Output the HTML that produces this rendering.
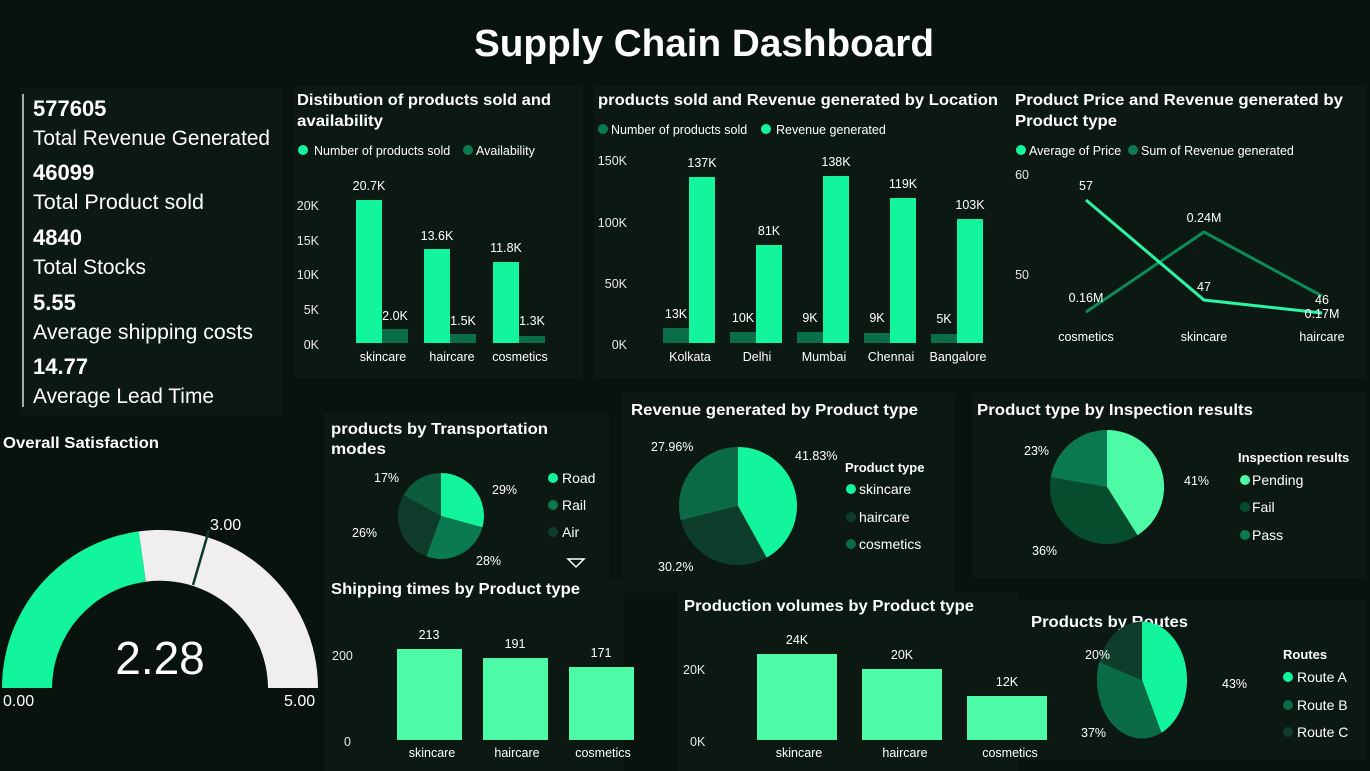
<!DOCTYPE html>
<html><head><meta charset="utf-8"><style>
body{margin:0;background:#09130e;}
svg{display:block;font-family:"Liberation Sans",sans-serif;}
.t{font-weight:bold;fill:#fff;font-size:16px;}
.a{fill:#e8e8e8;font-size:12.5px;}
.l{fill:#fff;font-size:12.5px;}
</style></head><body>
<svg width="1370" height="771" viewBox="0 0 1370 771">
<rect width="1370" height="771" fill="#09130e"/>
<g fill="#0c1912">
<rect x="20" y="88" width="262" height="327"/>
<rect x="293" y="86" width="290" height="292"/>
<rect x="594" y="86" width="420" height="292"/>
<rect x="1012" y="86" width="354" height="292"/>
<rect x="324" y="413" width="285" height="165"/>
<rect x="622" y="393" width="333" height="200"/>
<rect x="972" y="393" width="394" height="185"/>
<rect x="324" y="578" width="300" height="193"/>
<rect x="678" y="593" width="340" height="178"/>
<rect x="1018" y="600" width="348" height="160"/>
</g>
<text x="704" y="56" text-anchor="middle" font-size="38" font-weight="bold" fill="#fff" textLength="460" lengthAdjust="spacingAndGlyphs">Supply Chain Dashboard</text>
<line x1="23" y1="94" x2="23" y2="407" stroke="#aaa" stroke-width="2"/>
<g fill="#fff">
<text x="33" y="116" font-size="22" font-weight="bold">577605</text>
<text x="33" y="145" font-size="21" textLength="237" lengthAdjust="spacingAndGlyphs">Total Revenue Generated</text>
<text x="33" y="180" font-size="22" font-weight="bold">46099</text>
<text x="33" y="209" font-size="21" textLength="171" lengthAdjust="spacingAndGlyphs">Total Product sold</text>
<text x="33" y="245" font-size="22" font-weight="bold">4840</text>
<text x="33" y="274" font-size="21" textLength="113" lengthAdjust="spacingAndGlyphs">Total Stocks</text>
<text x="33" y="310" font-size="22" font-weight="bold">5.55</text>
<text x="33" y="339" font-size="21" textLength="220" lengthAdjust="spacingAndGlyphs">Average shipping costs</text>
<text x="33" y="374" font-size="22" font-weight="bold">14.77</text>
<text x="33" y="403" font-size="21" textLength="181" lengthAdjust="spacingAndGlyphs">Average Lead Time</text>
</g>
<!-- Distribution -->
<text class="t" x="297" y="105" textLength="254" lengthAdjust="spacingAndGlyphs">Distibution of products sold and</text>
<text class="t" x="297" y="126" textLength="86" lengthAdjust="spacingAndGlyphs">availability</text>
<circle cx="303" cy="150" r="5" fill="#13f59c"/><text class="l" x="314" y="155">Number of products sold</text>
<circle cx="468" cy="150" r="5" fill="#0b7a50"/><text class="l" x="476" y="155">Availability</text>
<g class="a" text-anchor="end"><text x="319" y="210">20K</text><text x="319" y="245">15K</text><text x="319" y="279">10K</text><text x="319" y="314">5K</text><text x="319" y="349">0K</text></g>
<g fill="#13f59c"><rect x="356" y="200" width="26" height="143"/><rect x="424" y="249" width="26" height="94"/><rect x="493" y="262" width="26" height="81"/></g>
<g fill="#0b6e48"><rect x="382" y="329" width="26" height="14"/><rect x="450" y="334" width="26" height="9"/><rect x="519" y="336" width="26" height="7"/></g>
<g class="l" text-anchor="middle"><text x="369" y="190">20.7K</text><text x="395" y="320">2.0K</text><text x="437" y="240">13.6K</text><text x="463" y="325">1.5K</text><text x="506" y="252">11.8K</text><text x="532" y="325">1.3K</text>
<text x="383" y="361">skincare</text><text x="452" y="361">haircare</text><text x="520" y="361">cosmetics</text></g>
<!-- Location -->
<text class="t" x="598" y="105" textLength="400" lengthAdjust="spacingAndGlyphs">products sold and Revenue generated by Location</text>
<circle cx="603" cy="129" r="5" fill="#0b7a50"/><text class="l" x="611" y="134">Number of products sold</text>
<circle cx="766" cy="129" r="5" fill="#13f59c"/><text class="l" x="776" y="134">Revenue generated</text>
<g class="a" text-anchor="end"><text x="627" y="165">150K</text><text x="627" y="227">100K</text><text x="627" y="288">50K</text><text x="627" y="349">0K</text></g>
<g fill="#0b6e48"><rect x="663" y="328" width="26" height="15"/><rect x="730" y="332" width="26" height="11"/><rect x="797" y="332" width="26" height="11"/><rect x="864" y="333" width="26" height="10"/><rect x="931" y="334" width="26" height="9"/></g>
<g fill="#13f59c"><rect x="689" y="177" width="26" height="166"/><rect x="756" y="245" width="26" height="98"/><rect x="823" y="176" width="26" height="167"/><rect x="890" y="198" width="26" height="145"/><rect x="957" y="219" width="26" height="124"/></g>
<g class="l" text-anchor="middle"><text x="676" y="318">13K</text><text x="702" y="167">137K</text><text x="743" y="322">10K</text><text x="769" y="235">81K</text><text x="810" y="322">9K</text><text x="836" y="166">138K</text><text x="877" y="322">9K</text><text x="903" y="188">119K</text><text x="944" y="323">5K</text><text x="970" y="209">103K</text>
<text x="690" y="361">Kolkata</text><text x="757" y="361">Delhi</text><text x="824" y="361">Mumbai</text><text x="891" y="361">Chennai</text><text x="958" y="361">Bangalore</text></g>
<!-- Line chart -->
<text class="t" x="1015" y="105" textLength="328" lengthAdjust="spacingAndGlyphs">Product Price and Revenue generated by</text>
<text class="t" x="1015" y="126" textLength="102" lengthAdjust="spacingAndGlyphs">Product type</text>
<circle cx="1021" cy="150" r="5" fill="#13f59c"/><text class="l" x="1029" y="155">Average of Price</text>
<circle cx="1133" cy="150" r="5" fill="#0b7a50"/><text class="l" x="1141" y="155">Sum of Revenue generated</text>
<g class="a" text-anchor="end"><text x="1029" y="179">60</text><text x="1029" y="279">50</text></g>
<polyline points="1086,312 1204,232 1322,296" fill="none" stroke="#0b8a5a" stroke-width="3"/>
<polyline points="1086,200 1204,300 1322,313" fill="none" stroke="#2cf5a5" stroke-width="3"/>
<g class="l" text-anchor="middle"><text x="1086" y="190">57</text><text x="1086" y="302">0.16M</text><text x="1204" y="222">0.24M</text><text x="1204" y="291">47</text><text x="1322" y="304">46</text><text x="1322" y="318">0.17M</text>
<text x="1086" y="341">cosmetics</text><text x="1204" y="341">skincare</text><text x="1322" y="341">haircare</text></g>
<!-- Gauge -->
<text class="t" x="3" y="448" textLength="156" lengthAdjust="spacingAndGlyphs">Overall Satisfaction</text>
<path d="M2,688 A158,158 0 0 1 138.7,531.4 L145.9,581.7 A108,108 0 0 0 52,688 Z" fill="#13f59c"/>
<path d="M138.7,531.4 A158,158 0 0 1 318,688 L268,688 A108,108 0 0 0 145.9,581.7 Z" fill="#f0efed"/>
<line x1="209" y1="530" x2="193" y2="585" stroke="#0b3a28" stroke-width="2.5"/>
<text x="160" y="674" text-anchor="middle" font-size="46" fill="#fff">2.28</text>
<text x="210" y="530" font-size="16" fill="#fff">3.00</text>
<text x="3" y="706" font-size="16" fill="#fff">0.00</text>
<text x="284" y="706" font-size="16" fill="#fff">5.00</text>
<!-- Transport pie -->
<text class="t" x="331" y="434" textLength="217" lengthAdjust="spacingAndGlyphs">products by Transportation</text>
<text class="t" x="331" y="454" textLength="55" lengthAdjust="spacingAndGlyphs">modes</text>
<g transform="translate(441,516)">
<path d="M0,0 L0,-43 A43,43 0 0 1 41.4,11.4 Z" fill="#13f59c"/>
<path d="M0,0 L41.4,11.4 A43,43 0 0 1 -14.7,40.4 Z" fill="#0b7a50"/>
<path d="M0,0 L-14.7,40.4 A43,43 0 0 1 -37.5,-21 Z" fill="#0e3b2a"/>
<path d="M0,0 L-37.5,-21 A43,43 0 0 1 0,-43 Z" fill="#0c5c3d"/>
</g>
<g class="l"><text x="492" y="494">29%</text><text x="476" y="565">28%</text><text x="352" y="537">26%</text><text x="374" y="482">17%</text></g>
<circle cx="553" cy="478" r="5" fill="#13f59c"/><text x="562" y="483" fill="#fff" font-size="14">Road</text>
<circle cx="553" cy="505" r="5" fill="#0b7a50"/><text x="562" y="510" fill="#fff" font-size="14">Rail</text>
<circle cx="553" cy="532" r="5" fill="#0e3b2a"/><text x="562" y="537" fill="#fff" font-size="14">Air</text>
<path d="M568,559 L584,559 L576,567 Z" fill="none" stroke="#fff" stroke-width="1.5"/>
<!-- Revenue pie -->
<text class="t" x="631" y="415" textLength="287" lengthAdjust="spacingAndGlyphs">Revenue generated by Product type</text>
<g transform="translate(738,506)">
<path d="M0,0 L0,-59 A59,59 0 0 1 28.6,51.6 Z" fill="#13f59c"/>
<path d="M0,0 L28.6,51.6 A59,59 0 0 1 -57.3,14.3 Z" fill="#0f3d2b"/>
<path d="M0,0 L-57.3,14.3 A59,59 0 0 1 0,-59 Z" fill="#0b6b47"/>
</g>
<g class="l"><text x="795" y="460">41.83%</text><text x="651" y="451">27.96%</text><text x="658" y="571">30.2%</text></g>
<text x="845" y="472" fill="#fff" font-size="13" font-weight="bold">Product type</text>
<circle cx="851" cy="489" r="5" fill="#13f59c"/><text x="859" y="494" fill="#fff" font-size="14">skincare</text>
<circle cx="851" cy="517" r="5" fill="#0f3d2b"/><text x="859" y="522" fill="#fff" font-size="14">haircare</text>
<circle cx="851" cy="544" r="5" fill="#0b6b47"/><text x="859" y="549" fill="#fff" font-size="14">cosmetics</text>
<!-- Inspection pie -->
<text class="t" x="977" y="415" textLength="276" lengthAdjust="spacingAndGlyphs">Product type by Inspection results</text>
<g transform="translate(1107,487)">
<path d="M0,0 L0,-57 A57,57 0 0 1 30.5,48.2 Z" fill="#4dfaa6"/>
<path d="M0,0 L30.5,48.2 A57,57 0 0 1 -56.2,-9.8 Z" fill="#064d2d"/>
<path d="M0,0 L-56.2,-9.8 A57,57 0 0 1 0,-57 Z" fill="#0b7a50"/>
</g>
<g class="l"><text x="1184" y="485">41%</text><text x="1024" y="455">23%</text><text x="1032" y="555">36%</text></g>
<text x="1238" y="462" fill="#fff" font-size="13" font-weight="bold">Inspection results</text>
<circle cx="1245" cy="480" r="5" fill="#4dfaa6"/><text x="1252" y="485" fill="#fff" font-size="14">Pending</text>
<circle cx="1245" cy="507" r="5" fill="#064d2d"/><text x="1252" y="512" fill="#fff" font-size="14">Fail</text>
<circle cx="1245" cy="535" r="5" fill="#0b7a50"/><text x="1252" y="540" fill="#fff" font-size="14">Pass</text>
<!-- Shipping -->
<text class="t" x="331" y="594" textLength="249" lengthAdjust="spacingAndGlyphs">Shipping times by Product type</text>
<g class="a"><text x="332" y="660">200</text><text x="344" y="746">0</text></g>
<g fill="#4dfaa6"><rect x="397" y="649" width="65" height="91"/><rect x="483" y="658" width="65" height="82"/><rect x="569" y="667" width="65" height="73"/></g>
<g class="l" text-anchor="middle"><text x="429" y="639">213</text><text x="515" y="648">191</text><text x="601" y="657">171</text>
<text x="432" y="757">skincare</text><text x="517" y="757">haircare</text><text x="603" y="757">cosmetics</text></g>
<!-- Production -->
<text class="t" x="684" y="611" textLength="290" lengthAdjust="spacingAndGlyphs">Production volumes by Product type</text>
<g class="a"><text x="683" y="674">20K</text><text x="690" y="746">0K</text></g>
<g fill="#4dfaa6"><rect x="757" y="654" width="80" height="86"/><rect x="862" y="669" width="80" height="71"/><rect x="967" y="696" width="80" height="44"/></g>
<g class="l" text-anchor="middle"><text x="797" y="644">24K</text><text x="902" y="659">20K</text><text x="1007" y="686">12K</text>
<text x="799" y="757">skincare</text><text x="905" y="757">haircare</text><text x="1010" y="757">cosmetics</text></g>
<!-- Routes -->
<text class="t" x="1031" y="627" textLength="157" lengthAdjust="spacingAndGlyphs">Products by Routes</text>
<g transform="translate(1142,680) scale(1,1.3)">
<path d="M0,0 L0,-45 A45,45 0 0 1 19.4,40.6 Z" fill="#13f59c"/>
<path d="M0,0 L19.4,40.6 A45,45 0 0 1 -42.8,-13.9 Z" fill="#0b6b47"/>
<path d="M0,0 L-42.8,-13.9 A45,45 0 0 1 0,-45 Z" fill="#0f3d2b"/>
</g>
<g class="l"><text x="1222" y="688">43%</text><text x="1085" y="659">20%</text><text x="1081" y="737">37%</text></g>
<text x="1283" y="659" fill="#fff" font-size="13" font-weight="bold">Routes</text>
<circle cx="1288" cy="677" r="5" fill="#13f59c"/><text x="1297" y="682" fill="#fff" font-size="14">Route A</text>
<circle cx="1288" cy="705" r="5" fill="#0b6b47"/><text x="1297" y="710" fill="#fff" font-size="14">Route B</text>
<circle cx="1288" cy="732" r="5" fill="#0f3d2b"/><text x="1297" y="737" fill="#fff" font-size="14">Route C</text>
</svg>
</body></html>
